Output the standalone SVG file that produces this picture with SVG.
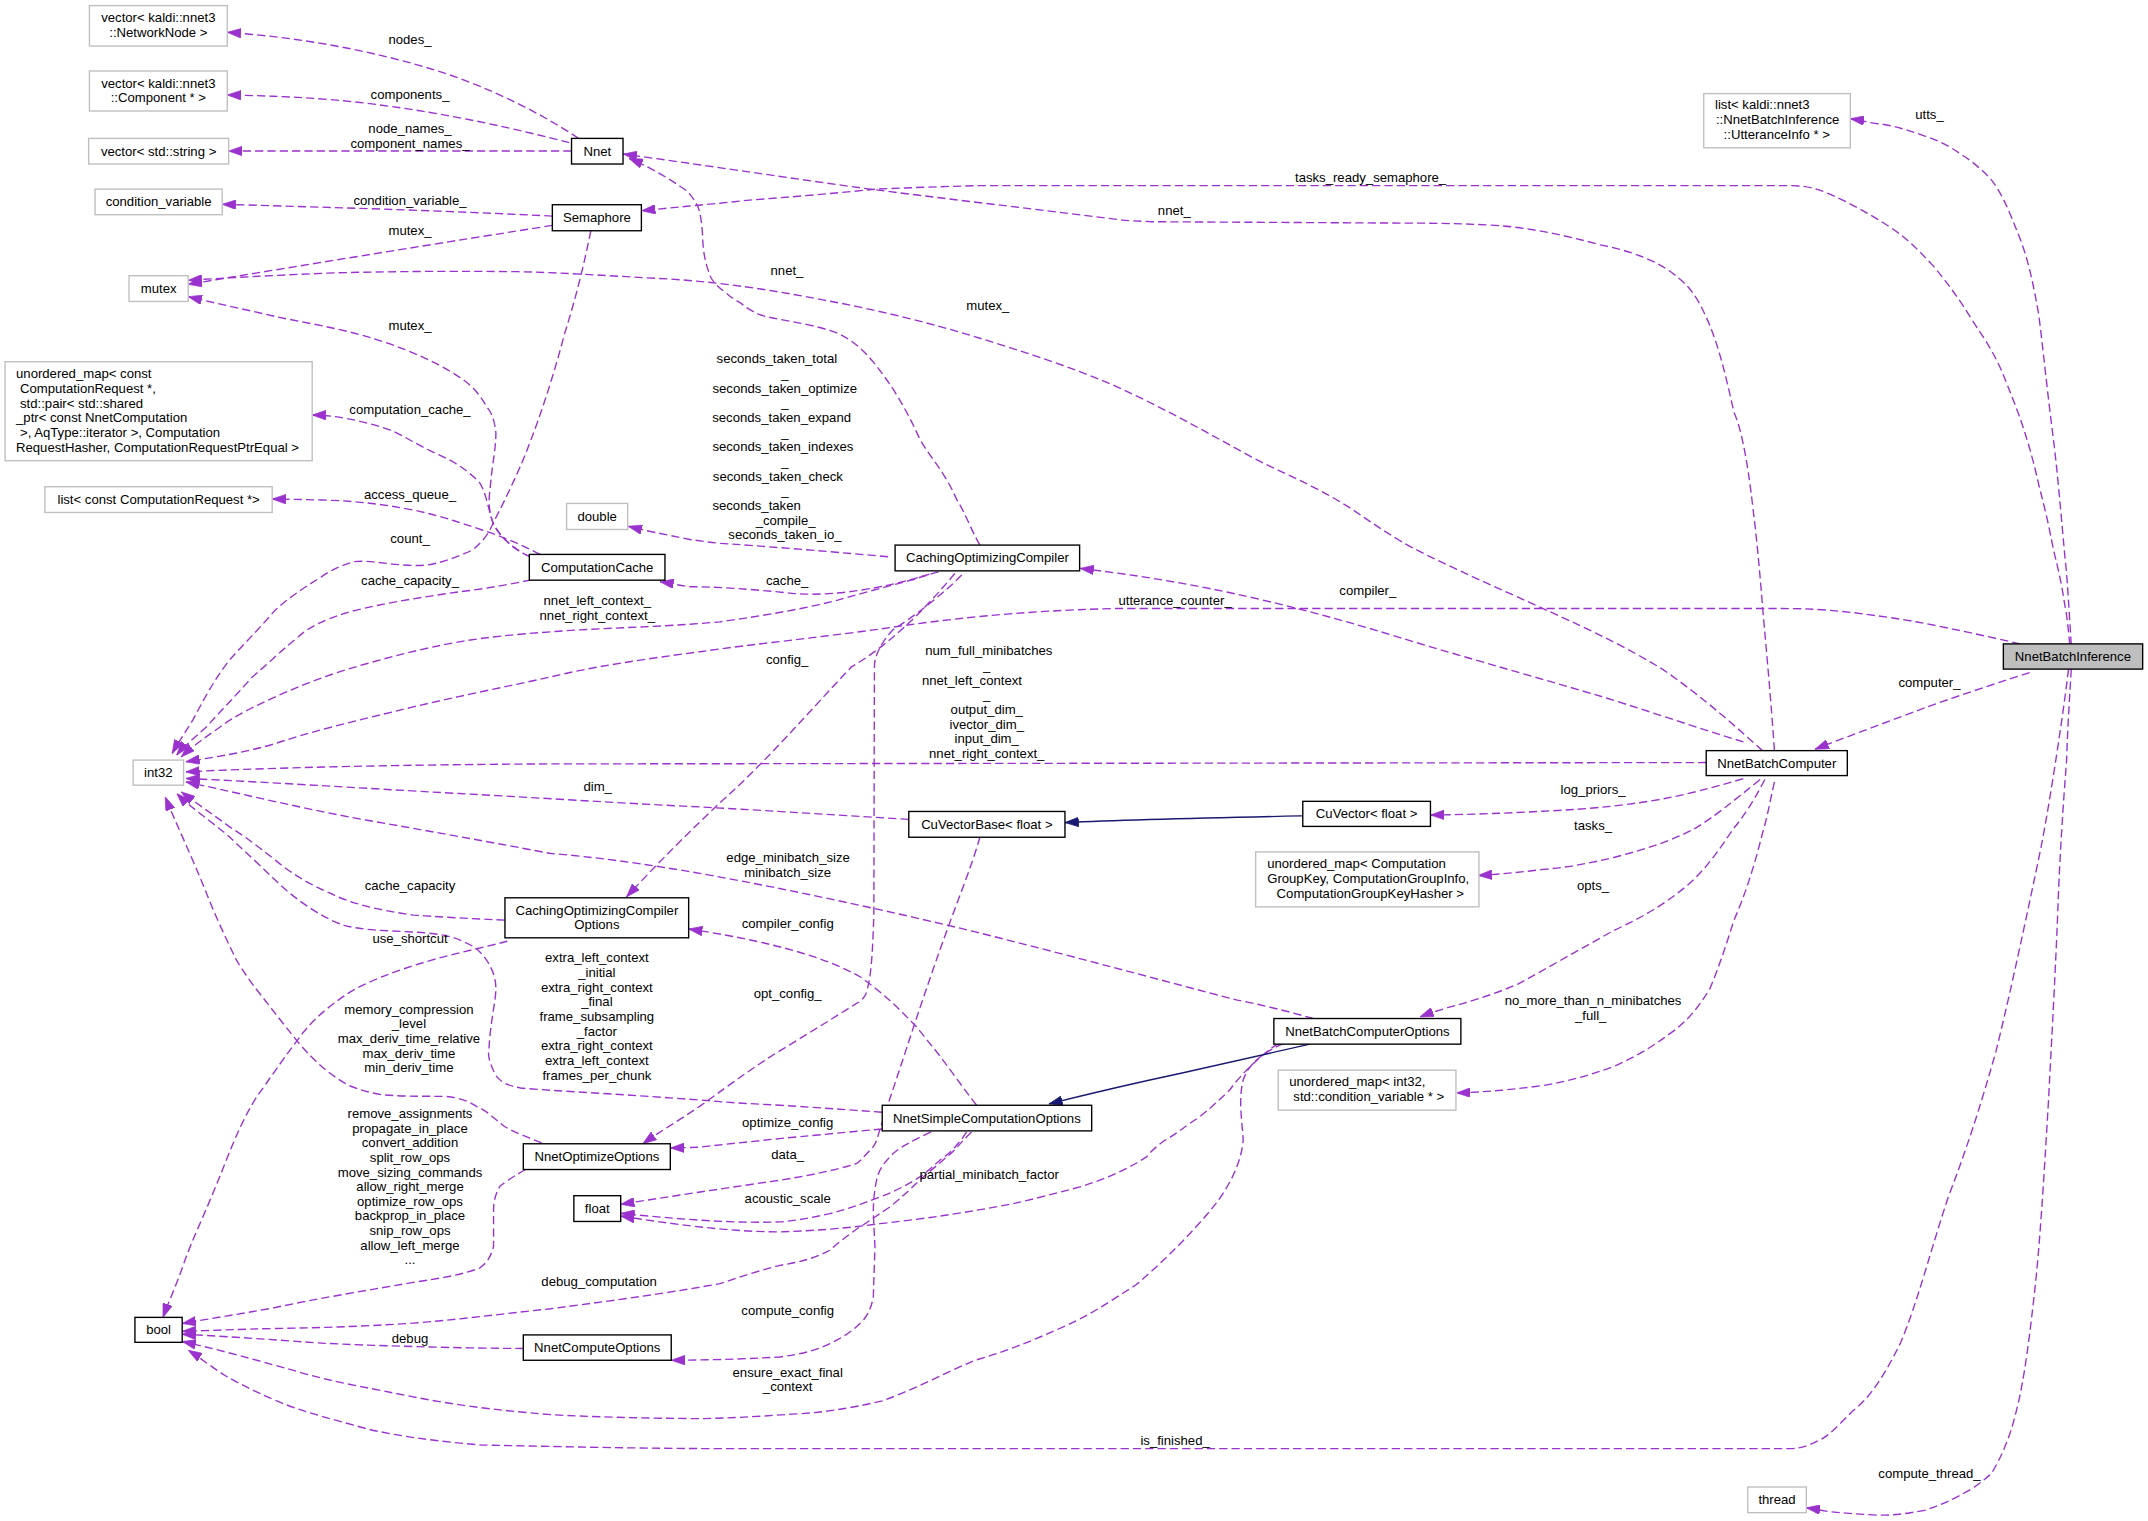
<svg xmlns="http://www.w3.org/2000/svg" width="2148" height="1521" viewBox="0 0 2148 1521">
<style>
.t{font-family:"Liberation Sans",Arial,Helvetica,sans-serif;font-size:9.6px;fill:#000;text-anchor:middle}
.ts{text-anchor:start}
.nb{fill:#fff;stroke:#000;stroke-width:1}
.ng{fill:#fff;stroke:#bfbfbf;stroke-width:1}
.nf{fill:#bfbfbf;stroke:#000;stroke-width:1}
.e{fill:none;stroke:#9a32cd;stroke-width:1;stroke-dasharray:6,3;marker-end:url(#a)}
.i{fill:none;stroke:#191970;stroke-width:1;marker-end:url(#b)}
</style>
<defs>
<marker id="a" viewBox="0 0 10 7" refX="10" refY="3.5" markerWidth="10" markerHeight="7" markerUnits="userSpaceOnUse" orient="auto"><path d="M0,0L10,3.5L0,7z" fill="#9a32cd" stroke="#9a32cd" stroke-width="0.5"/></marker>
<marker id="b" viewBox="0 0 10 7" refX="10" refY="3.5" markerWidth="10" markerHeight="7" markerUnits="userSpaceOnUse" orient="auto"><path d="M0,0L10,3.5L0,7z" fill="#191970" stroke="#191970" stroke-width="0.5"/></marker>
</defs>
<rect width="2148" height="1521" fill="#fff"/>
<g transform="scale(1.3699,1.37027)">
<g id="edges">
<path class="e" d="M422.3,101 C400,86 370,70 335,57 C290,41 230,28 165.9,23.6"/>
<path class="e" d="M415.5,104.1 C380,95 330,83 268,75.4 C230,71 200,70 165.9,69.3"/>
<path class="e" d="M417.2,110.2 L166.9,110.2"/>
<path class="e" d="M403.2,157.7 C330,154 250,151.5 162.2,149.1"/>
<path class="e" d="M403.2,164.5 C330,176 230,192 137.4,207.5"/>
<path class="e" d="M1286.6,547.8 C1270,533 1245,510 1213.5,488.3 C1180,468 1150,455 1126.4,444.1 C1080,423 1045,408 1021.9,394.6 C995,378 990,373 980.1,367.4 C955,352 935,345 913.1,333.3 C880,315 850,298 812.6,281 C780,267 745,256 712,245.8 C680,236 640,226 601.5,219 C560,211 520,205 480.2,203.2 C440,201 410,199 379.6,198.3 C320,197.5 260,198.5 234.6,199.5 C200,201 170,202.5 137.4,204.5"/>
<path class="e" d="M386.9,406.3 C375,401 365,392 360.1,382 C356,372 357,362 357.7,357.7 C359,340 362,328 362,316.3 C361,305 358,300 355.2,296.8 C350,287 343,280 335,275 C315,262 290,252 268,245.7 C245,239 220,235 201,231 C180,226 160,222 137.4,216.5"/>
<path class="e" d="M386.9,406.3 C375,401 365,392 360,382 C356,370 355,360 350,352 C340,342 330,336 318.4,331 C305,325 295,318 284.9,313.9 C265,307 245,303 227.9,302.9"/>
<path class="e" d="M394.2,404.6 C380,397 365,391 351.9,386.8 C335,381 320,376 301.6,372.2 C280,368 260,365.5 234.6,364.9 C220,364.5 210,364.3 198.7,364.2"/>
<path class="e" d="M431.3,168.4 C425,200 418,225 412.2,243.3 C400,290 385,330 375.3,350.4 C370,362 365,372 363.5,374.7 C360,382 358,386 356.2,389.3 C350,398 345,402 339.2,403.9 C330,408 320,411 311.7,412.4 C290,414 270,408 258,410 C248,413 240,417 234.6,421 C220,430 210,437 201,445.1 C190,458 178,470 167.6,481.6 C155,498 148,512 140.8,525.4 C135,535 130,542 125.7,549.8"/>
<path class="e" d="M387.6,423.2 C370,427 345,431 335.1,431.9 C300,437 270,442 251.3,447.7 C235,453 225,458 217.8,464.7 C205,475 195,485 184.3,493.9 C170,510 160,520 150.8,530.4 C140,540 133,546 129,551"/>
<path class="e" d="M678.5,419 C650,428 610,436 578,433 C550,430 520,428 503.6,428.2 C495,427 488,425.5 481.8,424.6"/>
<path class="e" d="M685.2,417.3 C675,420 670,422 665.1,423.4 C640,430 625,434 611.5,438 C580,446 545,451 525.5,453.8 C480,458 440,458 402.1,461.1 C375,463 355,465 335.1,468.4 C310,473 290,478 268.1,484.2 C240,492 220,500 201,508.5 C185,516 172,522 160.9,530.4 C150,538 140,545 132.4,552.3"/>
<path class="e" d="M1474.6,469.9 C1440,462 1400,453 1370.2,449.4 C1340,445 1320,444.1 1300.5,444.1 L812.6,444.1 C740,446 690,452 645,458.7 C600,465 550,470 511,475.6 C470,481 430,487 402.1,494 C370,501 335,508 301.6,515.9 C260,526 230,533 201,542.6 C180,549 160,552 135.7,555.9"/>
<path class="e" d="M1245.5,556.5 L400,557.5 C300,558 200,560 135.7,563.3"/>
<path class="e" d="M663.4,598 C600,594 550,591 511,588.9 C450,586 390,582 335.1,579.1 C260,575 200,571 135.7,568.1"/>
<path class="e" d="M958.6,743.3 C940,738 920,733 903.2,729.9 C850,716 780,697 712,680.1 C650,665 580,650 520,639 C470,630 430,625 402.1,622.9 C350,613 310,606 268.1,598.6 C220,590 180,580 135.7,570.6"/>
<path class="e" d="M368.6,671.5 C335,670 320,669 301.6,667.8 C275,664 255,659 241.3,652 C225,645 212,637 201,627.7 C185,615 175,608 167.6,603.4 C155,594 143,586 132.4,577.9"/>
<path class="e" d="M644,811.7 C620,810 600,808.5 569.3,806.6 C540,805 530,804.5 525.5,803.9 C450,798 400,796 380,794 C370,792 366,790 362,785 C357,775 356,770 356.9,766 C358,745 362,730 362,721.6 C362,712 358,705 355.2,700.7 C350,693 345,690 338,687 C328,682 315,681 301.6,680.2 C280,679 265,679 251.3,675.3 C235,670 215,656 201,642.4 C185,627 175,618 167.6,610.8 C155,600 140,590 129,579.1"/>
<path class="e" d="M395.4,834 C385,830 375,826 368.6,822.3 C360,816 355,810 348.5,807.9 C340,802 330,800 321.7,800.1 C300,800 290,800 278.1,798.8 C268,797 262,795 254.7,792.2 C240,784 230,775 217.8,760.8 C205,745 195,732 191,726.8 C183,717 177,708 172.6,700.7 C165,685 157,668 150.8,652 C140,625 128,600 120.6,581.5"/>
<path class="e" d="M370.3,686.9 C355,691 335,695 315,700.7 C290,708 265,717 251.3,726.8 C235,738 225,748 217.8,758.2 C205,775 195,790 187.7,800 C175,820 168,840 160.9,857.4 C150,885 140,905 134,922.6 C128,940 123,950 119,961.4"/>
<path class="e" d="M383.7,853.5 C372,860 366,865 365.3,865.3 C361,872 360.3,878 360.3,883.6 L360.3,909.7 C358,918 355,922 350.2,925.4 C335,931 320,933 301.6,935.9 C260,943 230,948 201,954.2 C175,959 155,962 133,965.9"/>
<path class="e" d="M709.2,826.1 C700,835 697,840 691,844.3 C685,850 678,855 671.5,861.3 C662,870 657,875 649.6,880.8 C640,887 635,891 627.7,895.4 C618,902 612,907 605.8,912.4 C595,918 585,921 569.3,923.4 C555,927 540,932 525.5,936.8 C480,945 440,950 402.1,955.1 C365,959 335,963 301.6,965.6 C265,968 235,969 201,969.5 C175,970 155,971 133,971.6"/>
<path class="e" d="M382,984.1 C330,983.8 270,982 234.6,980.2 C190,977 160,975 133,973.7"/>
<path class="e" d="M936.7,761.6 C920,769 910,778 907,790 C904,805 907,820 907.5,832.1 C906,850 896,868 885.6,880.8 C870,900 850,920 829.3,937.6 C810,950 795,960 779,967 C755,978 735,986 711.1,992.9 C690,1002 665,1015 644.1,1022.3 C620,1028 600,1031 578,1032 C550,1034 530,1035 511,1035.3 C470,1035 430,1034 402.1,1032.4 C360,1029 330,1025 301.6,1019.4 C270,1013 240,1008 217.8,1001.1 C185,992 160,985 133,979"/>
<path class="e" d="M1510,488.3 C1505,530 1494,600 1488.4,625.6 C1475,690 1465,735 1457,767.3 C1445,810 1435,840 1422.2,873.6 C1410,910 1400,950 1387.4,979.9 C1375,1005 1365,1020 1352.6,1029.6 C1340,1042 1335,1048 1328.2,1050.9 C1320,1055 1315,1057 1307.3,1057.2 L525.5,1057.2 C450,1057 380,1055 351.9,1054.6 C320,1052 290,1048 268.1,1042.8 C240,1035 220,1030 201,1022 C185,1015 175,1010 164.2,1003.8 C155,998 145,990 137.4,985.4"/>
<path class="e" d="M715.3,611 C710,630 700,655 692,676.9 C680,710 670,740 661.8,764.9 C652,795 645,815 640,832 C638,837 636,839 635,839.4 C630,845 627,848 625.3,849.1 C610,854 590,858 569.3,861.3 C530,867 490,873 453.1,878.9"/>
<path class="e" d="M705.6,826.1 C700,835 693,842 686.1,846.7 C680,852 676,856 671.5,858.9 C660,866 652,870 642.3,873.5 C628,879 620,882 605.8,885.7 C590,889 580,891 569.3,891.7 C530,893 490,889 453.1,885.5"/>
<path class="e" d="M933,761.6 C920,770 905,785 897.8,795.3 C890,803 882,810 876,814.8 C865,822 858,828 849,833 C840,840 838,843 837,844.3 C820,855 805,861 788.3,866.2 C770,871 755,875 739.6,878.4 C710,884 680,889 642.3,893 C620,896 600,898 569.3,899 C530,899 490,893 453.1,887.5"/>
<path class="e" d="M679.6,826.1 C665,833 655,838 649.6,844.3 C643,851 641,856 639.9,861.3 C638,870 637.5,878 637.5,885.6 L638.7,910 L637.5,946.5 C636,955 633,960 630.2,963.5 C622,972 615,976 605.8,980.5 C595,986 585,988 569.3,990.3 C540,992 515,992.5 490,992.7"/>
<path class="e" d="M644,823.9 C610,827 590,829 569.3,830.9 C540,834 520,836 511,837.2 C500,837.5 495,837.7 489.5,837.8"/>
<path class="e" d="M702,419.7 C690,432 670,448 651.7,459.7 C642,470 638.3,480 638.3,486.7 L637.9,667.1 C637,695 636,715 631.9,725.8 C630,729 628,731 625.2,732.3 C610,742 595,751 578,761.6 C555,775 535,790 511,807.2 C495,818 480,827 469.2,834.7"/>
<path class="e" d="M697,418.5 C675,445 650,470 621.5,486.7 C590,520 560,555 527.7,583.9 C505,605 480,630 457.4,654.5"/>
<path class="e" d="M712.9,806.6 C700,790 690,775 680,763 C675,757 670,750 665.1,745.3 C655,735 645,725 627.8,712.8 C612,704 595,698 577.5,693.2 C555,687 530,682 502.7,678"/>
<path class="e" d="M715.3,397.8 C708,385 705,375 698.6,365 C690,345 680,335 671.8,321.2 C660,295 650,280 638.3,265.2 C630,255 622,248 611.5,243.3 C590,235 568,234 555.5,229.9 C548,227 544,224 541.1,221.4 C535,218 532,216 530.5,214.1 C522,208 519,204 517.8,199.5 C514,190 513,180 512.8,170.3 C512,160 511,155 509.5,150.9 C506,144 502,139 496.9,136.3 C485,128 470,120 459.2,115.6"/>
<path class="e" d="M1295.3,547.8 C1292,500 1288,460 1286.6,442.3 C1284,410 1282,390 1279.7,371.5 C1275,330 1270,310 1265.7,300.8 C1258,265 1252,245 1244.8,230 C1238,215 1232,208 1223.9,201.7 C1210,190 1190,183 1168.2,178.7 C1140,171 1115,166 1091.6,164.5 C1065,163 1045,162.8 1021.9,162.8 L840.5,161.8 C825,161 822,161 819.6,160.6 C750,152 690,145 631,137.5 C570,129 510,120 455,112.4"/>
<path class="e" d="M1510.9,470.6 C1509,450 1508,445 1507.4,442.3 C1504,420 1501,410 1498.7,399.9 C1494,375 1491,365 1488.3,353.9 C1483,330 1478,315 1474.3,304.3 C1469,290 1465,280 1460.4,268.9 C1453,253 1447,245 1439.6,233.5 C1430,218 1422,207 1411.7,194.6 C1400,182 1392,174 1380.5,166.3 C1365,156 1350,148 1335.3,141.5 C1325,137 1317,135.5 1307.5,135.5 L714.6,135.5 C690,136 665,137 639.4,138 C610,141 575,144 547.2,146 C520,149 495,151 468.4,153.8"/>
<path class="e" d="M1512,470.6 C1510,440 1509,420 1507.4,406.9 C1504,370 1502,345 1498.7,318.5 C1495,290 1492,260 1488.3,230 C1484,205 1480,188 1474.3,173.4 C1467,155 1462,142 1453.4,130.9 C1447,124 1440,118 1432.5,113.2 C1422,106 1414,102 1404.6,99.1 C1390,94 1380,91 1369.8,90.2 C1362,89 1357,87.5 1350.7,86.7"/>
<path class="e" d="M1272.7,541.4 C1235,530 1195,516 1161.3,506 C1110,491 1060,477 1021.9,465.3 C995,457 970,450 946.6,444 C900,432 850,422 788.5,414.8"/>
<path class="e" d="M1481.6,490.8 C1450,501 1420,511 1405,516.6 C1380,526 1350,537 1325,546.7"/>
<path class="e" d="M1272.6,568.2 C1250,575 1230,580 1213.5,583.1 C1180,589 1150,591 1126.4,592 C1100,593.5 1070,594.5 1044.2,594.8"/>
<path class="e" d="M1284.8,568.9 C1265,585 1250,597 1237.8,604.3 C1220,614 1200,620 1178.6,625.6 C1160,630 1145,633 1126.4,634.5 C1110,636.5 1095,638 1079,638.9"/>
<path class="e" d="M1288.3,568.9 C1280,585 1272,597 1265.7,604.3 C1255,620 1245,635 1230.9,646.8 C1215,660 1198,670 1178.6,678.7 C1155,692 1130,706 1109,717.7 C1090,726 1070,732 1056.7,735.4 C1048,738 1042,740 1036.5,742.1"/>
<path class="e" d="M1295.3,570.6 C1292,585 1290,597 1286.6,607.9 C1280,635 1273,655 1265.7,671.7 C1260,690 1255,705 1248.3,721.3 C1240,735 1232,745 1220.5,753.2 C1205,765 1192,772 1178.6,778 C1160,785 1145,789 1126.4,792.2 C1105,795 1085,797 1063.3,797.6"/>
<path class="e" d="M1512,488.3 C1510,520 1509,540 1508.6,554.7 C1505,600 1503,640 1502.3,661 C1500,720 1497,770 1495.4,802.7 C1492,860 1489,910 1485,944.4 C1480,990 1476,1015 1471,1033 C1467,1050 1460,1065 1453.6,1075.6 C1448,1080 1445,1083 1439.7,1086.2 C1425,1095 1415,1099 1404.9,1102.2 C1390,1105 1380,1106 1370.1,1105.7 C1355,1105 1345,1104 1335.3,1103.2 C1328,1102 1323,1101 1318.6,1100.4"/>
<path class="e" d="M648.3,406.3 C600,402 550,398 525.5,396.5 C515,395.5 510,394.5 503.6,393.7 C485,390 470,387 458.7,384.1"/>
<path class="i" d="M951,595.4 C900,596.5 830,598 777.4,600.3"/>
<path class="i" d="M956.2,762 C920,770 890,777 861.3,783.4 C830,790 800,797 765.7,805.6"/>
</g>
<g id="n_networknode"><rect class="ng" x="65.3" y="4.1" width="100.6" height="29.5"/><text class="t" x="115.6" y="16">vector&lt; kaldi::nnet3</text><text class="t" x="115.6" y="26.9">::NetworkNode &gt;</text></g>
<g id="n_component"><rect class="ng" x="65.3" y="51.8" width="100.6" height="29.2"/><text class="t" x="115.6" y="63.9">vector&lt; kaldi::nnet3</text><text class="t" x="115.6" y="74.7">::Component * &gt;</text></g>
<g id="n_vecstring"><rect class="ng" x="64.7" y="101" width="102.2" height="18.7"/><text class="t" x="115.8" y="113.6">vector&lt; std::string &gt;</text></g>
<g id="n_condvar"><rect class="ng" x="69.4" y="138" width="92.8" height="18.7"/><text class="t" x="115.8" y="150.6">condition_variable</text></g>
<g id="n_mutex"><rect class="ng" x="94.2" y="201.2" width="43.2" height="18.8"/><text class="t" x="115.8" y="213.9">mutex</text></g>
<g id="n_umap_cache"><rect class="ng" x="3.7" y="264" width="224.2" height="72.2"/>
<text class="t ts" x="11.7" y="275.9">unordered_map&lt; const</text>
<text class="t ts" x="14.6" y="286.7">ComputationRequest *,</text>
<text class="t ts" x="14.6" y="297.5">std::pair&lt; std::shared</text>
<text class="t ts" x="11.7" y="308.3">_ptr&lt; const NnetComputation</text>
<text class="t ts" x="14.6" y="319.1">&gt;, AqType::iterator &gt;, Computation</text>
<text class="t ts" x="11.7" y="329.9">RequestHasher, ComputationRequestPtrEqual &gt;</text></g>
<g id="n_listcr"><rect class="ng" x="32.8" y="355.2" width="165.9" height="18.8"/><text class="t" x="115.8" y="367.9">list&lt; const ComputationRequest *&gt;</text></g>
<g id="n_int32"><rect class="ng" x="97.2" y="554.7" width="36.8" height="18.3"/><text class="t" x="115.6" y="567.1">int32</text></g>
<g id="n_bool"><rect class="nb" x="98.5" y="961.4" width="34.5" height="18.2"/><text class="t" x="115.8" y="973.8">bool</text></g>
<g id="n_nnet"><rect class="nb" x="417.2" y="101" width="37.6" height="18.7"/><text class="t" x="436" y="113.6">Nnet</text></g>
<g id="n_semaphore"><rect class="nb" x="403.2" y="149.4" width="65" height="19"/><text class="t" x="435.7" y="162.2">Semaphore</text></g>
<g id="n_double"><rect class="ng" x="413.6" y="367.4" width="44.6" height="19"/><text class="t" x="435.9" y="380.2">double</text></g>
<g id="n_compcache"><rect class="nb" x="386.4" y="404.6" width="99" height="18.8"/><text class="t" x="435.9" y="417.3">ComputationCache</text></g>
<g id="n_coco"><rect class="nb" x="368.6" y="655.2" width="134.1" height="29.2"/><text class="t" x="435.7" y="667.5">CachingOptimizingCompiler</text><text class="t" x="435.7" y="678.3">Options</text></g>
<g id="n_noo"><rect class="nb" x="382" y="834.7" width="107.3" height="18.8"/><text class="t" x="435.7" y="847.4">NnetOptimizeOptions</text></g>
<g id="n_float"><rect class="nb" x="418.9" y="872.6" width="34.2" height="18.8"/><text class="t" x="436" y="885.3">float</text></g>
<g id="n_nco"><rect class="nb" x="382" y="974.2" width="108" height="18.5"/><text class="t" x="436" y="986.7">NnetComputeOptions</text></g>
<g id="n_coc"><rect class="nb" x="653.4" y="397.8" width="134.7" height="18.8"/><text class="t" x="720.8" y="410.5">CachingOptimizingCompiler</text></g>
<g id="n_cuvectorbase"><rect class="nb" x="663.4" y="592.2" width="114" height="18.8"/><text class="t" x="720.4" y="604.9">CuVectorBase&lt; float &gt;</text></g>
<g id="n_nsco"><rect class="nb" x="644" y="806.6" width="152.9" height="18.7"/><text class="t" x="720.4" y="819.3">NnetSimpleComputationOptions</text></g>
<g id="n_cuvector"><rect class="nb" x="951" y="584.8" width="93.2" height="18.3"/><text class="t" x="997.6" y="597.3">CuVector&lt; float &gt;</text></g>
<g id="n_umap_tasks"><rect class="ng" x="916.6" y="621.7" width="163" height="40.1"/>
<text class="t ts" x="925" y="633.8">unordered_map&lt; Computation</text>
<text class="t ts" x="925" y="644.6">GroupKey, ComputationGroupInfo,</text>
<text class="t ts" x="931.9" y="655.4">ComputationGroupKeyHasher &gt;</text></g>
<g id="n_nbco"><rect class="nb" x="929.9" y="743.3" width="136.5" height="18.7"/><text class="t" x="998.2" y="755.9">NnetBatchComputerOptions</text></g>
<g id="n_umap_cv"><rect class="ng" x="933.1" y="781" width="129.7" height="29.2"/>
<text class="t ts" x="941.1" y="792.8">unordered_map&lt; int32,</text>
<text class="t ts" x="944.1" y="803.8">std::condition_variable * &gt;</text></g>
<g id="n_nbc"><rect class="nb" x="1245.5" y="547.8" width="103" height="18.2"/><text class="t" x="1297" y="560.2">NnetBatchComputer</text></g>
<g id="n_listui"><rect class="ng" x="1243.7" y="68.3" width="107" height="39.6"/>
<text class="t ts" x="1251.9" y="79.4">list&lt; kaldi::nnet3</text>
<text class="t ts" x="1252.6" y="90.3">::NnetBatchInference</text>
<text class="t ts" x="1258.2" y="101.3">::UtteranceInfo * &gt;</text></g>
<g id="n_nbi"><rect class="nf" x="1462.4" y="469.9" width="101.7" height="18.4"/><text class="t" x="1513.2" y="482.4">NnetBatchInference</text></g>
<g id="n_thread"><rect class="ng" x="1275.8" y="1085.2" width="42.8" height="18.7"/><text class="t" x="1297.2" y="1097.8">thread</text></g>
<g id="labels">
<text class="t" x="299.3" y="31.8">nodes_</text>
<text class="t" x="299.3" y="72.6">components_</text>
<text class="t" x="299.3" y="97">node_names_</text>
<text class="t" x="299.3" y="107.8">component_names_</text>
<text class="t" x="299.3" y="149.8">condition_variable_</text>
<text class="t" x="299.3" y="171.2">mutex_</text>
<text class="t" x="299.3" y="240.5">mutex_</text>
<text class="t" x="299.3" y="302.1">computation_cache_</text>
<text class="t" x="299.3" y="363.9">access_queue_</text>
<text class="t" x="299.3" y="396.2">count_</text>
<text class="t" x="299.3" y="427.2">cache_capacity_</text>
<text class="t" x="299.3" y="649.3">cache_capacity</text>
<text class="t" x="299.3" y="688.4">use_shortcut</text>
<text class="t" x="298.5" y="739.8">memory_compression</text>
<text class="t" x="298.5" y="750.5">_level</text>
<text class="t" x="298.5" y="761.2">max_deriv_time_relative</text>
<text class="t" x="298.5" y="771.9">max_deriv_time</text>
<text class="t" x="298.5" y="782.6">min_deriv_time</text>
<text class="t" x="299.3" y="815.8">remove_assignments</text>
<text class="t" x="299.3" y="826.5">propagate_in_place</text>
<text class="t" x="299.3" y="837.2">convert_addition</text>
<text class="t" x="299.3" y="847.9">split_row_ops</text>
<text class="t" x="299.3" y="858.6">move_sizing_commands</text>
<text class="t" x="299.3" y="869.3">allow_right_merge</text>
<text class="t" x="299.3" y="880">optimize_row_ops</text>
<text class="t" x="299.3" y="890.7">backprop_in_place</text>
<text class="t" x="299.3" y="901.4">snip_row_ops</text>
<text class="t" x="299.3" y="912.1">allow_left_merge</text>
<text class="t" x="299.3" y="922.8">...</text>
<text class="t" x="299.3" y="979.8">debug</text>
<text class="t" x="436" y="441.5">nnet_left_context_</text>
<text class="t" x="436" y="452.3">nnet_right_context_</text>
<text class="t" x="436.3" y="577">dim_</text>
<text class="t" x="435.7" y="702.3">extra_left_context</text>
<text class="t" x="435.7" y="713">_initial</text>
<text class="t" x="435.7" y="723.7">extra_right_context</text>
<text class="t" x="435.7" y="734.4">_final</text>
<text class="t" x="435.7" y="745.1">frame_subsampling</text>
<text class="t" x="435.7" y="755.8">_factor</text>
<text class="t" x="435.7" y="766.5">extra_right_context</text>
<text class="t" x="435.7" y="777.2">extra_left_context</text>
<text class="t" x="435.7" y="787.9">frames_per_chunk</text>
<text class="t" x="437.3" y="938.3">debug_computation</text>
<text class="t" x="574.5" y="200.9">nnet_</text>
<text class="t" x="567.1" y="265.1">seconds_taken_total</text>
<text class="t" x="573" y="275.8">_</text>
<text class="t" x="572.9" y="286.5">seconds_taken_optimize</text>
<text class="t" x="573" y="297.2">_</text>
<text class="t" x="570.6" y="307.9">seconds_taken_expand</text>
<text class="t" x="573" y="318.6">_</text>
<text class="t" x="571.5" y="329.3">seconds_taken_indexes</text>
<text class="t" x="573" y="340">_</text>
<text class="t" x="567.8" y="350.7">seconds_taken_check</text>
<text class="t" x="573" y="361.4">_</text>
<text class="t" x="552.3" y="372.1">seconds_taken</text>
<text class="t" x="573.5" y="382.8">_compile_</text>
<text class="t" x="573" y="393.5">seconds_taken_io_</text>
<text class="t" x="574.6" y="427.2">cache_</text>
<text class="t" x="574.6" y="484.3">config_</text>
<text class="t" x="575.3" y="629">edge_minibatch_size</text>
<text class="t" x="575" y="639.7">minibatch_size</text>
<text class="t" x="575" y="676.9">compiler_config</text>
<text class="t" x="575" y="728.4">opt_config_</text>
<text class="t" x="575" y="822.6">optimize_config</text>
<text class="t" x="575" y="845.7">data_</text>
<text class="t" x="575" y="878">acoustic_scale</text>
<text class="t" x="575" y="959.8">compute_config</text>
<text class="t" x="575" y="1005.1">ensure_exact_final</text>
<text class="t" x="575" y="1015.2">_context</text>
<text class="t" x="722.1" y="860.1">partial_minibatch_factor</text>
<text class="t" x="721.1" y="226.4">mutex_</text>
<text class="t" x="721.8" y="478.3">num_full_minibatches</text>
<text class="t" x="720.3" y="489">_</text>
<text class="t" x="709.5" y="499.7">nnet_left_context</text>
<text class="t" x="720.3" y="510.4">_</text>
<text class="t" x="720.3" y="521.1">output_dim_</text>
<text class="t" x="720.3" y="531.8">ivector_dim_</text>
<text class="t" x="720.3" y="542.5">input_dim_</text>
<text class="t" x="720.3" y="553.2">nnet_right_context_</text>
<text class="t" x="857.8" y="441.8">utterance_counter_</text>
<text class="t" x="857.2" y="157.1">nnet_</text>
<text class="t" x="1000.5" y="133">tasks_ready_semaphore_</text>
<text class="t" x="998.5" y="434">compiler_</text>
<text class="t" x="857.8" y="1054.6">is_finished_</text>
<text class="t" x="1162.9" y="579.3">log_priors_</text>
<text class="t" x="1162.9" y="605.9">tasks_</text>
<text class="t" x="1162.9" y="649.4">opts_</text>
<text class="t" x="1162.9" y="733.4">no_more_than_n_minibatches</text>
<text class="t" x="1161.2" y="744.1">_full_</text>
<text class="t" x="1408.5" y="86.5">utts_</text>
<text class="t" x="1408.5" y="501.2">computer_</text>
<text class="t" x="1408.5" y="1078.9">compute_thread_</text>
</g>
</g>
</svg>
